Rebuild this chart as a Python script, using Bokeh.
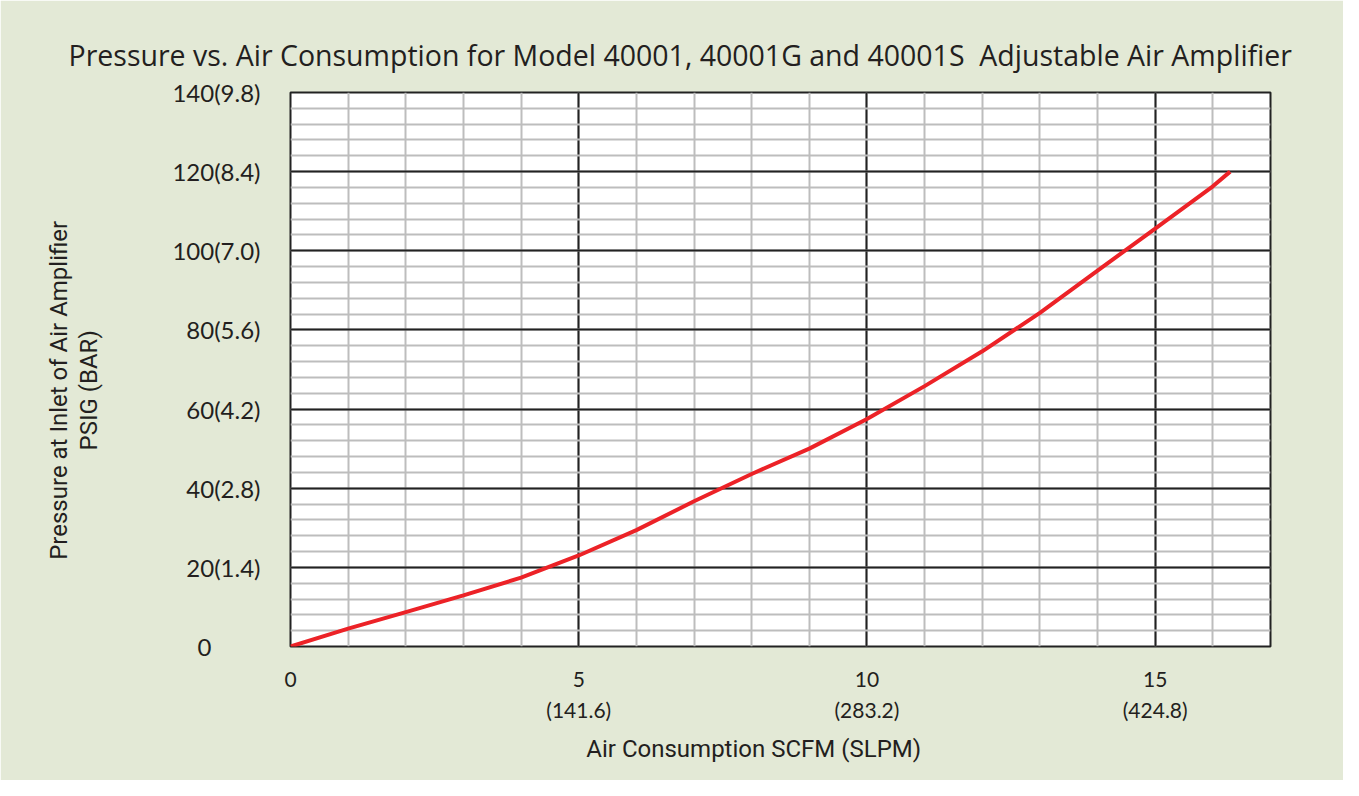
from bokeh.plotting import figure
from bokeh.models import FixedTicker, Range1d
from bokeh.embed import file_html
from bokeh.resources import INLINE

# ---- data ----
scfm = [0, 1, 2, 3, 4, 5, 6, 7, 8, 9, 10, 11, 12, 13, 14, 15, 16, 16.3]
psig = [0, 4.5, 8.7, 12.9, 17.4, 23.0, 29.4, 36.7, 43.6, 50.0, 57.5, 65.8, 74.6, 84.3, 95.0, 105.6, 116.3, 120.0]

x_ticks = [0, 5, 10, 15]
x_tick_labels = ["0", "5\n(141.6)", "10\n(283.2)", "15\n(424.8)"]
y_ticks = [0, 20, 40, 60, 80, 100, 120, 140]
NB = "\u00a0"
y_tick_labels = ["0" + NB * 8, "20(1.4)", "40(2.8)", "60(4.2)", "80(5.6)",
                 "100(7.0)", "120(8.4)", "140(9.8)"]

title_text = "Pressure vs. Air Consumption for Model 40001, 40001G and 40001S" + NB + " Adjustable Air Amplifier"
x_title = "Air Consumption SCFM (SLPM)"
y_title_lines = ["Pressure at Inlet of Air Amplifier", "PSIG (BAR)"]

BG = "#e3e9d6"
TXT = "#231f20"

p = figure(width=1343, height=780,
           x_range=Range1d(0, 17), y_range=Range1d(0, 140),
           output_backend="svg", toolbar_location=None,
           min_border_left=290, min_border_right=73,
           min_border_top=92, min_border_bottom=134,
           background_fill_color="white", border_fill_color=BG,
           outline_line_color="#222222", outline_line_width=2)

# title
p.title.text = title_text
p.title.text_font = "Open Sans"
p.title.text_font_size = "28.5px"
p.title.text_font_style = "normal"
p.title.text_color = TXT
p.title.align = "left"
p.title.offset = -222
p.title.standoff = 38

# grids
p.xgrid.ticker = FixedTicker(ticks=[5, 10, 15], minor_ticks=list(range(1, 17)))
p.ygrid.ticker = FixedTicker(ticks=[20, 40, 60, 80, 100, 120],
                             minor_ticks=list(range(4, 140, 4)))
for g in (p.xgrid, p.ygrid):
    g.grid_line_color = "#222222"
    g.grid_line_width = 2
    g.minor_grid_line_color = "#bdbdbd"
    g.minor_grid_line_width = 2
    g.level = "underlay"

# axes
p.xaxis.ticker = FixedTicker(ticks=x_ticks)
p.xaxis.major_label_overrides = dict(zip(x_ticks, x_tick_labels))
p.yaxis.ticker = FixedTicker(ticks=y_ticks)
p.yaxis.major_label_overrides = dict(zip(y_ticks, y_tick_labels))
for ax in (p.xaxis, p.yaxis):
    ax.axis_line_color = None
    ax.major_tick_line_color = None
    ax.minor_tick_line_color = None
    ax.major_label_text_color = TXT
    ax.major_label_text_font = "Lato"
    ax.axis_label_text_color = TXT
    ax.axis_label_text_font = "Roboto"
    ax.axis_label_text_font_style = "normal"
p.xaxis.major_label_text_font_size = "21px"
p.xaxis.major_label_text_line_height = 1.25
p.xaxis.major_label_standoff = 13
p.yaxis.major_label_text_font_size = "24px"
p.yaxis.major_label_standoff = 24

# axis titles (trailing no-break spaces shift them as placed in the reference)
p.xaxis.axis_label = x_title + NB * 9
p.xaxis.axis_label_text_font_size = "24px"
p.xaxis.axis_label_standoff = 10
p.yaxis.axis_label = "\n".join(line + NB * 7 for line in y_title_lines)
p.yaxis.axis_label_text_font_size = "24px"
p.yaxis.axis_label_text_line_height = 1.1
p.yaxis.axis_label_standoff = 66

# curve
p.line(scfm, psig, line_color="#ec2227", line_width=4)

open("out.html", "w").write(file_html(p, INLINE))
